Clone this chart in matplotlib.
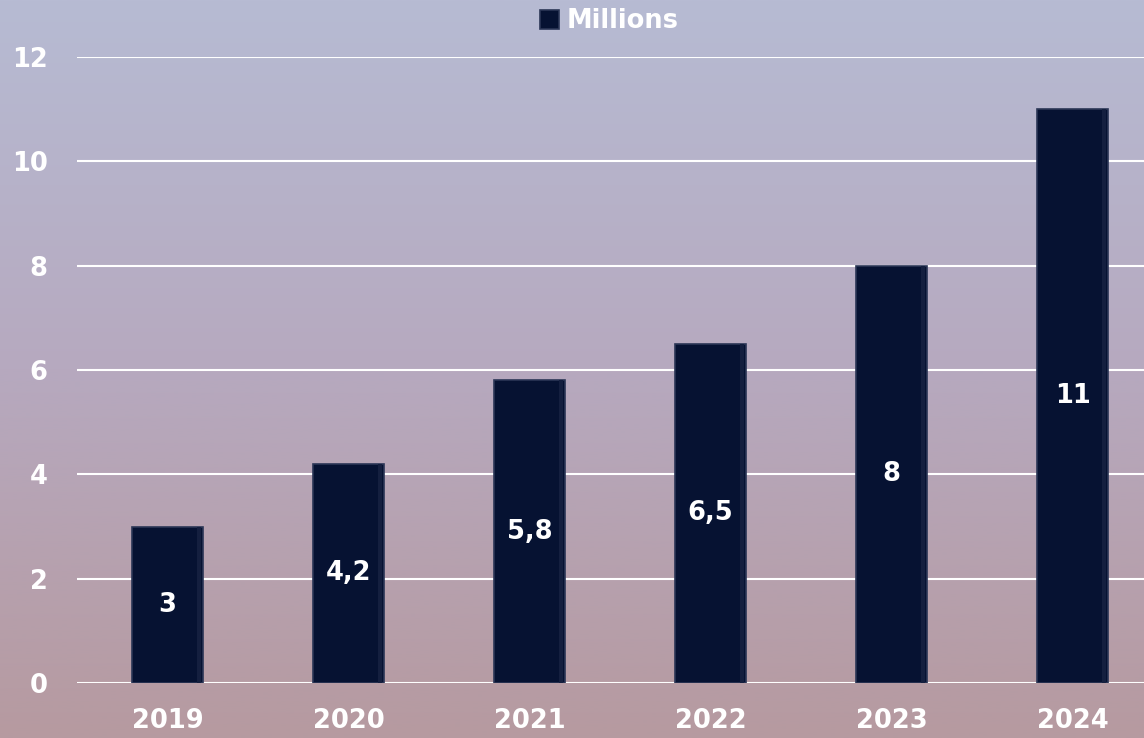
import numpy as np
import matplotlib
matplotlib.use("Agg")
import matplotlib.pyplot as plt
from matplotlib.colors import LinearSegmentedColormap

years = ["2019", "2020", "2021", "2022", "2023", "2024"]
millions = [3, 4.2, 5.8, 6.5, 8, 11]
bar_labels = ["3", "4,2", "5,8", "6,5", "8", "11"]
yticks = [0, 2, 4, 6, 8, 10, 12]

plt.rcParams['font.family'] = ['DejaVu Sans']

fig = plt.figure(figsize=(11.44, 7.38), dpi=100)

# gradient background
bg = fig.add_axes([0, 0, 1, 1], zorder=0)
cmap = LinearSegmentedColormap.from_list("bg", ["#b7bbd3", "#b6a9bf", "#b69aa0"])
grad = np.linspace(0, 1, 256).reshape(-1, 1)
bg.imshow(grad, aspect="auto", cmap=cmap, extent=[0, 1, 0, 1])
bg.axis("off")

ax = fig.add_axes([77 / 1144, 1 - 683 / 738, 1086 / 1144, 626 / 738], zorder=1)
ax.patch.set_alpha(0)

x = np.arange(len(years))
ax.bar(x, millions, width=0.395, color="#061232", edgecolor="#2b3656",
       linewidth=1.2, zorder=3, label="Millions")
# light bevel on the right side of each bar
ax.bar(x + 0.175, millions, width=0.025, color="#141f3f", linewidth=0, zorder=3.5)

for xi, v, lab in zip(x, millions, bar_labels):
    ax.text(xi, v / 2, lab, ha="center", va="center", color="white",
            fontsize=18.5, fontweight="bold", zorder=4)

ax.set_xlim(-0.5, 5.5)
ax.set_ylim(0, 12)
ax.set_yticks(yticks)
ax.set_yticklabels([str(t) for t in yticks])
ax.set_xticks(x)
ax.set_xticklabels(years)
ax.tick_params(axis="both", length=0, colors="white", labelsize=18.5)
ax.tick_params(axis="y", pad=21)
ax.tick_params(axis="x", pad=18)
for lab in ax.get_xticklabels() + ax.get_yticklabels():
    lab.set_fontweight("bold")
ax.grid(axis="y", color="white", linewidth=1.5, zorder=1)
for s in ax.spines.values():
    s.set_visible(False)

leg = ax.legend(loc="upper center", bbox_to_anchor=(0.49, 1.115), frameon=False,
                fontsize=18.5, handlelength=0.75, handleheight=0.75, handletextpad=0.3)
for t in leg.get_texts():
    t.set_color("white")
    t.set_fontweight("bold")

fig.savefig("out.png", dpi=100)
